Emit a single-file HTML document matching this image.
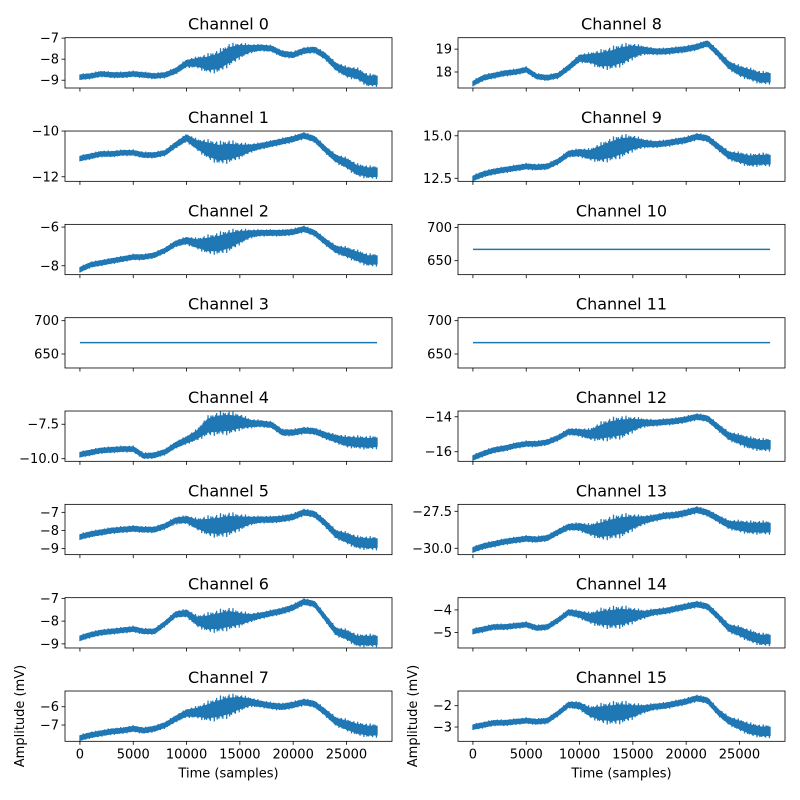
<!DOCTYPE html>
<html><head><meta charset="utf-8">
<style>
html,body{margin:0;padding:0;background:#fff;}
svg{display:block;font-family:"DejaVu Sans","Liberation Sans",sans-serif;}
</style></head>
<body>
<svg id="chart" width="800" height="800" viewBox="0 0 800 800"></svg>
<script>
// ---- data ----
const sampleIdx = [0,1000,2000,3000,4000,5000,6000,7000,8000,9000,10000,11000,12000,13000,14000,15000,16000,17000,18000,19000,20000,21000,22000,23000,24000,25000,26000,27000,27870];
const noiseShape = [1,1,1,1,1,1,1,1,1,1.1,1.3,1.8,3,3.5,3.5,2.5,1.4,1.1,1.1,1.1,1.1,1.1,1.1,1.2,1.4,1.8,2,2,2];
const xTicks = [0,5000,10000,15000,20000,25000];
const ch0 = [-8.85,-8.8,-8.7,-8.75,-8.75,-8.7,-8.75,-8.8,-8.75,-8.55,-8.2,-8.15,-8.2,-8.1,-7.8,-7.6,-7.5,-7.45,-7.5,-7.75,-7.8,-7.6,-7.55,-7.85,-8.35,-8.6,-8.7,-9.0,-9.0];
const ch1 = [-11.2,-11.1,-11.0,-11.0,-10.95,-10.95,-11.05,-11.05,-10.95,-10.6,-10.3,-10.6,-10.8,-10.95,-10.9,-10.85,-10.75,-10.65,-10.55,-10.45,-10.35,-10.2,-10.35,-10.8,-11.2,-11.4,-11.7,-11.8,-11.8];
const ch2 = [-8.2,-7.95,-7.85,-7.75,-7.65,-7.55,-7.55,-7.45,-7.2,-6.85,-6.7,-6.85,-6.9,-6.85,-6.7,-6.5,-6.35,-6.3,-6.3,-6.3,-6.25,-6.1,-6.3,-6.75,-7.15,-7.3,-7.5,-7.7,-7.7];
const ch3 = [667,667,667,667,667,667,667,667,667,667,667,667,667,667,667,667,667,667,667,667,667,667,667,667,667,667,667,667,667];
const ch4 = [-9.7,-9.55,-9.4,-9.35,-9.3,-9.3,-9.8,-9.75,-9.5,-9.0,-8.65,-8.25,-7.6,-7.45,-7.4,-7.35,-7.45,-7.45,-7.55,-8.1,-8.1,-7.95,-8.0,-8.3,-8.55,-8.75,-8.8,-8.85,-8.8];
const ch5 = [-8.35,-8.2,-8.1,-8.0,-7.95,-7.9,-7.95,-7.95,-7.75,-7.45,-7.4,-7.65,-7.75,-7.75,-7.65,-7.55,-7.45,-7.4,-7.4,-7.35,-7.25,-7.0,-7.1,-7.6,-8.2,-8.4,-8.65,-8.7,-8.7];
const ch6 = [-8.75,-8.6,-8.5,-8.45,-8.4,-8.35,-8.45,-8.45,-8.1,-7.7,-7.65,-8.0,-8.05,-8.0,-7.9,-7.9,-7.85,-7.75,-7.65,-7.55,-7.4,-7.15,-7.25,-7.85,-8.45,-8.6,-8.85,-8.85,-8.85];
const ch7 = [-7.7,-7.55,-7.45,-7.35,-7.3,-7.2,-7.3,-7.2,-7.0,-6.65,-6.35,-6.3,-6.25,-6.1,-5.95,-5.8,-5.75,-5.85,-5.95,-6.0,-5.9,-5.75,-5.85,-6.3,-6.8,-7.0,-7.2,-7.3,-7.3];
const ch8 = [17.5,17.75,17.85,17.95,18.0,18.1,17.8,17.75,17.85,18.2,18.6,18.6,18.55,18.6,18.75,18.9,18.95,18.9,18.9,18.95,19.0,19.1,19.25,18.8,18.3,18.05,17.9,17.75,17.75];
const ch9 = [12.5,12.75,12.9,13.0,13.1,13.2,13.15,13.2,13.5,13.95,14.0,13.9,14.0,14.2,14.4,14.55,14.55,14.5,14.55,14.65,14.75,14.95,14.85,14.35,13.85,13.7,13.55,13.6,13.6];
const ch10 = [667,667,667,667,667,667,667,667,667,667,667,667,667,667,667,667,667,667,667,667,667,667,667,667,667,667,667,667,667];
const ch11 = [667,667,667,667,667,667,667,667,667,667,667,667,667,667,667,667,667,667,667,667,667,667,667,667,667,667,667,667,667];
const ch12 = [-16.35,-16.1,-15.9,-15.8,-15.65,-15.55,-15.55,-15.45,-15.2,-14.85,-14.9,-15.0,-14.85,-14.7,-14.6,-14.45,-14.35,-14.35,-14.3,-14.25,-14.15,-14.0,-14.1,-14.6,-15.1,-15.3,-15.5,-15.6,-15.6];
const ch13 = [-30.1,-29.85,-29.7,-29.55,-29.45,-29.35,-29.4,-29.3,-28.9,-28.55,-28.55,-28.75,-28.75,-28.6,-28.45,-28.25,-28.1,-27.95,-27.8,-27.75,-27.6,-27.4,-27.6,-28.0,-28.4,-28.5,-28.6,-28.6,-28.6];
const ch14 = [-4.95,-4.85,-4.75,-4.75,-4.7,-4.65,-4.8,-4.75,-4.45,-4.1,-4.2,-4.35,-4.35,-4.35,-4.3,-4.25,-4.2,-4.1,-4.05,-3.95,-3.85,-3.75,-3.85,-4.3,-4.8,-4.95,-5.15,-5.3,-5.3];
const ch15 = [-3.0,-2.9,-2.8,-2.8,-2.75,-2.7,-2.75,-2.7,-2.35,-1.95,-2.0,-2.3,-2.35,-2.35,-2.3,-2.25,-2.15,-2.05,-2.0,-1.9,-1.8,-1.65,-1.75,-2.3,-2.7,-2.9,-3.1,-3.2,-3.2];
const channels = [ch0,ch1,ch2,ch3,ch4,ch5,ch6,ch7,ch8,ch9,ch10,ch11,ch12,ch13,ch14,ch15];
const noiseScale = [0.14,0.13,0.15,0,0.22,0.17,0.13,0.17,0.13,0.18,0,0,0.17,0.21,0.13,0.14];
const yMin = [-9.37,-12.2,-8.46,629,-10.19,-9.33,-9.18,-7.89,17.3,12.32,629,629,-16.55,-30.43,-5.68,-3.67];
const yMax = [-6.98,-10.0,-5.86,704.5,-6.54,-6.56,-6.97,-5.14,19.5,15.28,704.5,704.5,-13.67,-27.03,-3.46,-1.31];
const yTicks = [[-9,-8,-7],[-12,-10],[-8,-6],[650,700],[-10,-7.5],[-9,-8,-7],[-9,-8,-7],[-7,-6],[18,19],[12.5,15],[650,700],[650,700],[-16,-14],[-30,-27.5],[-5,-4],[-3,-2]];
const yTickLabels = [["−9","−8","−7"],["−12","−10"],["−8","−6"],["650","700"],["−10.0","−7.5"],["−9","−8","−7"],["−9","−8","−7"],["−7","−6"],["18","19"],["12.5","15.0"],["650","700"],["650","700"],["−16","−14"],["−30.0","−27.5"],["−5","−4"],["−3","−2"]];
const xTickLabels = ["0","5000","10000","15000","20000","25000"];

// ---- layout ----
const svg = document.getElementById('chart');
const NS = 'http://www.w3.org/2000/svg';
const colLeft = [65, 458], axW = 327, axH = 50.3, rowTop0 = 37.7, rowPitch = 93.33;
const xDomMin = -1400, xDomMax = 29270;
const jitterPattern = [1, 0.55, 0.85, 0.3, 0.95, 0.65, 0.45, 1.15, 0.7, 0.5, 0.9, 0.35, 1.05];
function mk(tag, attrs, parent) { const e = document.createElementNS(NS, tag); for (const k in attrs) e.setAttribute(k, attrs[k]); (parent || svg).appendChild(e); return e; }
function interp(arr, s) {
  let i = 0;
  while (i < sampleIdx.length - 2 && sampleIdx[i + 1] < s) i++;
  const t = (s - sampleIdx[i]) / (sampleIdx[i + 1] - sampleIdx[i]);
  return arr[i] + (arr[i + 1] - arr[i]) * Math.max(0, Math.min(1, t));
}

for (let c = 0; c < 16; c++) {
  const col = c < 8 ? 0 : 1, row = c % 8;
  const L = colLeft[col], T = rowTop0 + row * rowPitch;
  const xs = v => L + (v - xDomMin) / (xDomMax - xDomMin) * axW;
  const ys = v => T + (yMax[c] - v) / (yMax[c] - yMin[c]) * axH;
  const g = mk('g', {});
  
  

  const data = channels[c];
  if (noiseScale[c] > 0) {
    let up = [], lo = [];
    for (let i = 0; i < data.length; i++) {
      const hw = noiseScale[c] * noiseShape[i] * 0.7;
      up.push(xs(sampleIdx[i]).toFixed(2) + ',' + ys(data[i] + hw).toFixed(2));
      lo.push(xs(sampleIdx[i]).toFixed(2) + ',' + ys(data[i] - hw).toFixed(2));
    }
    const band = mk('polygon', {points: up.concat(lo.reverse()).join(' '), fill: '#1f77b4', stroke: '#1f77b4', 'stroke-width': 1.2, 'stroke-linejoin': 'round'}, g);
    
    
    const last = sampleIdx[sampleIdx.length - 1];
    let pts = [], k = 0;
    for (let s = 0; s <= last; s += 45, k++) {
      const m = interp(data, s), hw = noiseScale[c] * interp(noiseShape, s);
      const sign = k % 2 ? 1 : -1;
      pts.push(xs(s).toFixed(2) + ',' + ys(m + sign * hw * jitterPattern[k % jitterPattern.length]).toFixed(2));
    }
    const ln = mk('polyline', {points: pts.join(' '), fill: 'none', stroke: '#1f77b4', 'stroke-width': 1.2}, g);
    
    
  } else {
    const pts = data.map((v, i) => xs(sampleIdx[i]).toFixed(2) + ',' + ys(v).toFixed(2)).join(' ');
    const ln = mk('polyline', {points: pts, fill: 'none', stroke: '#1f77b4', 'stroke-width': 1.5}, g);
    
    
  }

  const frame = mk('rect', {x: L, y: T, width: axW, height: axH, fill: 'none', stroke: '#000', 'stroke-width': 0.8}, g);
  
  

  const title = mk('text', {x: L + axW / 2, y: T - 8, 'text-anchor': 'middle', 'font-size': 16, fill: '#000'}, g);
  title.textContent = 'Channel ' + c;
  
  

  yTicks[c].forEach((t, k) => {
    const y = ys(t);
    mk('line', {x1: L - 3.5, x2: L, y1: y, y2: y, stroke: '#000', 'stroke-width': 0.8}, g);
    const tx = mk('text', {x: L - 6, y: y + 4.5, 'text-anchor': 'end', 'font-size': 13, fill: '#000'}, g);
    tx.textContent = yTickLabels[c][k];
    
    
  });
  xTicks.forEach((t, k) => {
    const x = xs(t);
    mk('line', {x1: x, x2: x, y1: T + axH, y2: T + axH + 3.5, stroke: '#000', 'stroke-width': 0.8}, g);
    if (row === 7) {
      const tx = mk('text', {x: x, y: T + axH + 17, 'text-anchor': 'middle', 'font-size': 13, fill: '#000'}, g);
      tx.textContent = xTickLabels[k];
      
      
    }
  });
  if (row === 7) {
    const xl = mk('text', {x: L + axW / 2, y: T + axH + 36, 'text-anchor': 'middle', 'font-size': 13, fill: '#000'}, g);
    xl.textContent = 'Time (samples)';
    
    
    const yx = col === 0 ? 24 : 417, yc = 716;
    const yl = mk('text', {x: yx, y: yc, 'text-anchor': 'middle', 'font-size': 13, fill: '#000', transform: 'rotate(-90 ' + yx + ' ' + yc + ')'}, g);
    yl.textContent = 'Amplitude (mV)';
    
    
  }
}
</script>
</body></html>
